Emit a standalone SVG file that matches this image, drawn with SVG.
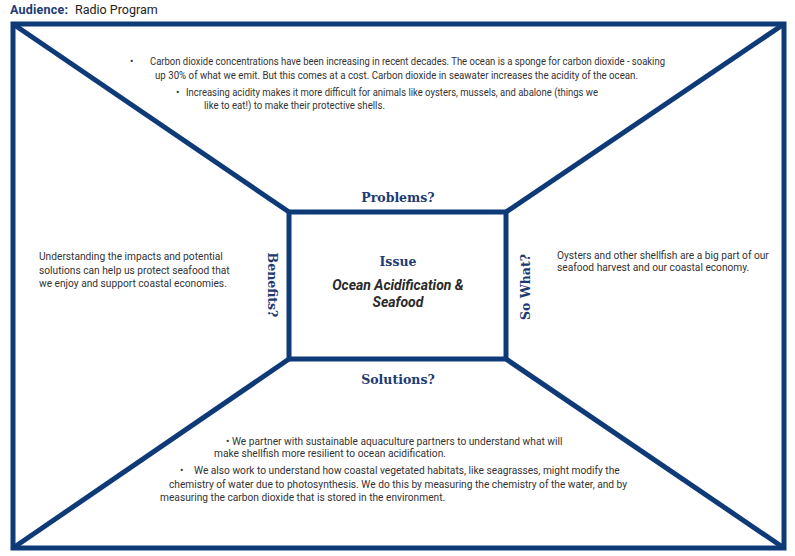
<svg xmlns="http://www.w3.org/2000/svg" width="795" height="556" viewBox="0 0 795 556">
<style>
.ln{stroke:#0f3a78;stroke-width:5;fill:none;stroke-linejoin:miter}
.hd{font-family:"DejaVu Serif","Liberation Serif",serif;font-weight:bold;font-size:12.5px;fill:#1d3b73}
.tx{font-family:Roboto,"Liberation Sans",sans-serif;font-size:10.2px;fill:#333}
.ct{font-family:Roboto,"Liberation Sans",sans-serif;font-size:14px;font-weight:bold;font-style:italic;fill:#2a2a2a}
</style>
<rect width="795" height="556" fill="#fff"/>
<g id="title">
<text x="10" y="14" style="font-family:Roboto,'Liberation Sans',sans-serif;font-size:12.5px;font-weight:bold;fill:#1d3b73" textLength="58">Audience:</text>
<text x="75" y="14" style="font-family:Roboto,'Liberation Sans',sans-serif;font-size:12.5px;fill:#222">Radio Program</text>
</g>
<g id="connectors">
<rect class="ln" x="13" y="24" width="771" height="524"/>
<line class="ln" x1="13" y1="24" x2="289" y2="212"/>
<line class="ln" x1="784" y1="24" x2="506" y2="212"/>
<line class="ln" x1="13" y1="548" x2="289" y2="359"/>
<line class="ln" x1="784" y1="548" x2="506" y2="359"/>
</g>
<g id="issue">
<rect class="ln" x="289" y="212" width="217" height="147"/>
<text class="hd" x="398" y="266" text-anchor="middle">Issue</text>
<text class="ct" x="398" y="290" text-anchor="middle">Ocean Acidification &amp;</text>
<text class="ct" x="398" y="307" text-anchor="middle">Seafood</text>
</g>
<g id="problems">
<text class="hd" x="398" y="202" text-anchor="middle">Problems?</text>
<text class="tx" x="130" y="65">•</text>
<text class="tx" x="150" y="65" textLength="515" lengthAdjust="spacingAndGlyphs">Carbon dioxide concentrations have been increasing in recent decades. The ocean is a sponge for carbon dioxide - soaking</text>
<text class="tx" x="155" y="79" textLength="483" lengthAdjust="spacingAndGlyphs">up 30% of what we emit. But this comes at a cost. Carbon dioxide in seawater increases the acidity of the ocean.</text>
<text class="tx" x="176" y="96">•</text>
<text class="tx" x="186" y="96" textLength="412" lengthAdjust="spacingAndGlyphs">Increasing acidity makes it more difficult for animals like oysters, mussels, and abalone (things we</text>
<text class="tx" x="204" y="109" textLength="181" lengthAdjust="spacingAndGlyphs">like to eat!) to make their protective shells.</text>
</g>
<g id="benefits">
<text class="hd" transform="translate(268,285) rotate(90)" text-anchor="middle">Benefits?</text>
<text class="tx" x="39" y="260">Understanding the impacts and potential</text>
<text class="tx" x="39" y="274">solutions can help us protect seafood that</text>
<text class="tx" x="39" y="287">we enjoy and support coastal economies.</text>
</g>
<g id="sowhat">
<text class="hd" transform="translate(530,287) rotate(-90)" text-anchor="middle">So What?</text>
<text class="tx" x="557" y="259">Oysters and other shellfish are a big part of our</text>
<text class="tx" x="557" y="271">seafood harvest and our coastal economy.</text>
</g>
<g id="solutions">
<text class="hd" x="398" y="384" text-anchor="middle">Solutions?</text>
<text class="tx" x="226" y="445">• We partner with sustainable aquaculture partners to understand what will</text>
<text class="tx" x="214" y="457">make shellfish more resilient to ocean acidification.</text>
<text class="tx" x="180" y="474">•</text>
<text class="tx" x="194" y="474">We also work to understand how coastal vegetated habitats, like seagrasses, might modify the</text>
<text class="tx" x="169" y="488">chemistry of water due to photosynthesis. We do this by measuring the chemistry of the water, and by</text>
<text class="tx" x="160" y="501">measuring the carbon dioxide that is stored in the environment.</text>
</g>
</svg>
